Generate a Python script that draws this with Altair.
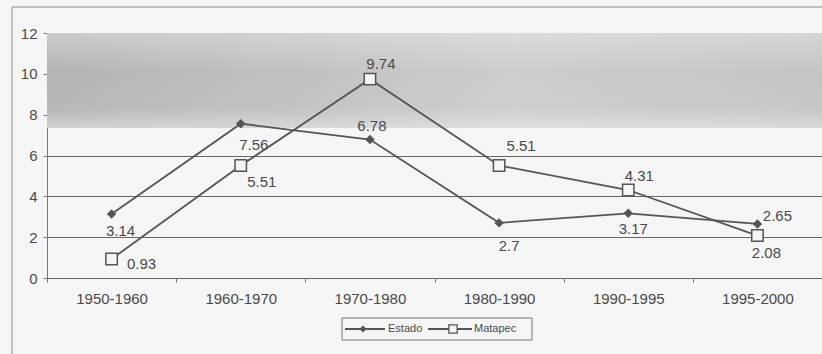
import altair as alt
import pandas as pd

# Growth rates by period
periods = ["1950-1960", "1960-1970", "1970-1980", "1980-1990", "1990-1995", "1995-2000"]
estado = [3.14, 7.56, 6.78, 2.7, 3.17, 2.65]
matapec = [0.93, 5.51, 9.74, 5.51, 4.31, 2.08]
y_ticks = [0, 2, 4, 6, 8, 10, 12]

# Pixel nudges for each value label (dx, dy)
estado_label_shift = [(9, 17), (13, 21), (2, -14), (10, 23), (5, 16), (20, -8)]
matapec_label_shift = [(30, 5), (21, 16), (11, -15), (22, -20), (11, -14), (9, 17)]

FONT = "Liberation Sans"
INK = "#4a4a4a"
PAPER = "#f5f5f5"
W, H = 775, 245

df = pd.DataFrame({"period": periods, "Estado": estado, "Matapec": matapec})
one = pd.DataFrame({"k": [0]})

x_enc = alt.X(
    "period:N",
    sort=periods,
    bandPosition=0.5,
    scale=alt.Scale(type="band", paddingInner=0, paddingOuter=0),
    axis=alt.Axis(
        title=None, labelAngle=0, grid=False, domain=False,
        tickBand="extent", tickSize=4, tickColor="#777",
        labelFontSize=15, labelPadding=9, labelColor=INK, labelFont=FONT,
    ),
)


def y_enc(col):
    return alt.Y(
        f"{col}:Q",
        scale=alt.Scale(domain=[0, 12], nice=False, zero=True),
        axis=alt.Axis(
            title=None, values=y_ticks, grid=True, gridColor="#666", gridWidth=1,
            domainColor="#777", tickColor="#777", tickSize=4,
            labelFontSize=15, labelPadding=6, labelColor=INK, labelFont=FONT,
        ),
    )


# shaded band across the top of the plot
shade = alt.Chart(one).mark_rect(
    color=alt.Gradient(
        gradient="linear", x1=0, y1=0.5, x2=1, y2=0.5,
        stops=[
            alt.GradientStop(color="#b4b4b4", offset=0),
            alt.GradientStop(color="#c2c2c2", offset=0.35),
            alt.GradientStop(color="#cdcdcd", offset=0.6),
            alt.GradientStop(color="#c4c4c4", offset=1),
        ],
    )
).encode(x=alt.value(0), x2=alt.value(W), y=alt.value(0), y2=alt.value(95))

shade_fade = alt.Chart(one).mark_rect(
    color=alt.Gradient(
        gradient="linear", x1=0, y1=0, x2=0, y2=1,
        stops=[
            alt.GradientStop(color="rgba(245,245,245,0.35)", offset=0),
            alt.GradientStop(color="rgba(245,245,245,0)", offset=0.4),
            alt.GradientStop(color="rgba(245,245,245,0.05)", offset=0.8),
            alt.GradientStop(color="rgba(245,245,245,0.45)", offset=1),
        ],
    )
).encode(x=alt.value(0), x2=alt.value(W), y=alt.value(0), y2=alt.value(95))

# outer border: left and top edges only (the rest runs off the page)
frame_left = alt.Chart(one).mark_rule(color="#8a8a8a", strokeWidth=1).encode(
    x=alt.value(-35), y=alt.value(-26), y2=alt.value(H + 80)
)
frame_top = alt.Chart(one).mark_rule(color="#8a8a8a", strokeWidth=1).encode(
    x=alt.value(-35), x2=alt.value(W), y=alt.value(-26)
)

base = alt.Chart(df).encode(x=x_enc)

estado_line = base.mark_line(color="#555", strokeWidth=1.8).encode(y=y_enc("Estado"))
matapec_line = base.mark_line(color="#555", strokeWidth=1.8).encode(y=y_enc("Matapec"))
estado_pts = base.mark_point(
    shape="diamond", filled=True, size=90, color="#555", opacity=1
).encode(y=y_enc("Estado"))
matapec_pts = base.mark_point(
    shape="square", filled=True, size=130, fill=PAPER, stroke="#555",
    strokeWidth=1.5, opacity=1
).encode(y=y_enc("Matapec"))

labels = []
for col, shifts in (("Estado", estado_label_shift), ("Matapec", matapec_label_shift)):
    for p, (dx, dy) in zip(periods, shifts):
        labels.append(
            base.transform_filter(alt.datum.period == p)
            .mark_text(dx=dx, dy=dy, fontSize=15, font=FONT, color=INK,
                       align="center", baseline="middle")
            .encode(y=y_enc(col), text=alt.Text(f"{col}:Q", format=".3~g"))
        )

# legend box
LY = 296
legend = [
    alt.Chart(one).mark_rect(fill=PAPER, stroke="#777", strokeWidth=1).encode(
        x=alt.value(295), x2=alt.value(485), y=alt.value(285), y2=alt.value(307)
    ),
    alt.Chart(one).mark_rule(color="#555", strokeWidth=1.8).encode(
        x=alt.value(298), x2=alt.value(338), y=alt.value(LY)
    ),
    alt.Chart(one).mark_point(shape="diamond", filled=True, size=50, color="#555", opacity=1).encode(
        x=alt.value(316), y=alt.value(LY)
    ),
    alt.Chart(one).mark_text(align="left", baseline="middle", fontSize=11, font=FONT, color=INK).encode(
        x=alt.value(341), y=alt.value(LY), text=alt.value("Estado")
    ),
    alt.Chart(one).mark_rule(color="#555", strokeWidth=1.8).encode(
        x=alt.value(381), x2=alt.value(425), y=alt.value(LY)
    ),
    alt.Chart(one).mark_point(shape="square", filled=True, size=70, fill=PAPER, stroke="#555",
                              strokeWidth=1.3, opacity=1).encode(
        x=alt.value(406), y=alt.value(LY)
    ),
    alt.Chart(one).mark_text(align="left", baseline="middle", fontSize=11, font=FONT, color=INK).encode(
        x=alt.value(427), y=alt.value(LY), text=alt.value("Matapec")
    ),
]

chart = alt.layer(
    frame_left, frame_top, shade, shade_fade, estado_line, matapec_line,
    estado_pts, matapec_pts, *labels, *legend
).properties(
    width=W, height=H,
    padding={"left": 47, "top": 33, "right": 0, "bottom": 76},
    autosize=alt.AutoSizeParams(type="none"),
    background=PAPER,
).configure_view(stroke=None)

chart.save("out.html", embed_options={"renderer": "svg", "actions": False})
